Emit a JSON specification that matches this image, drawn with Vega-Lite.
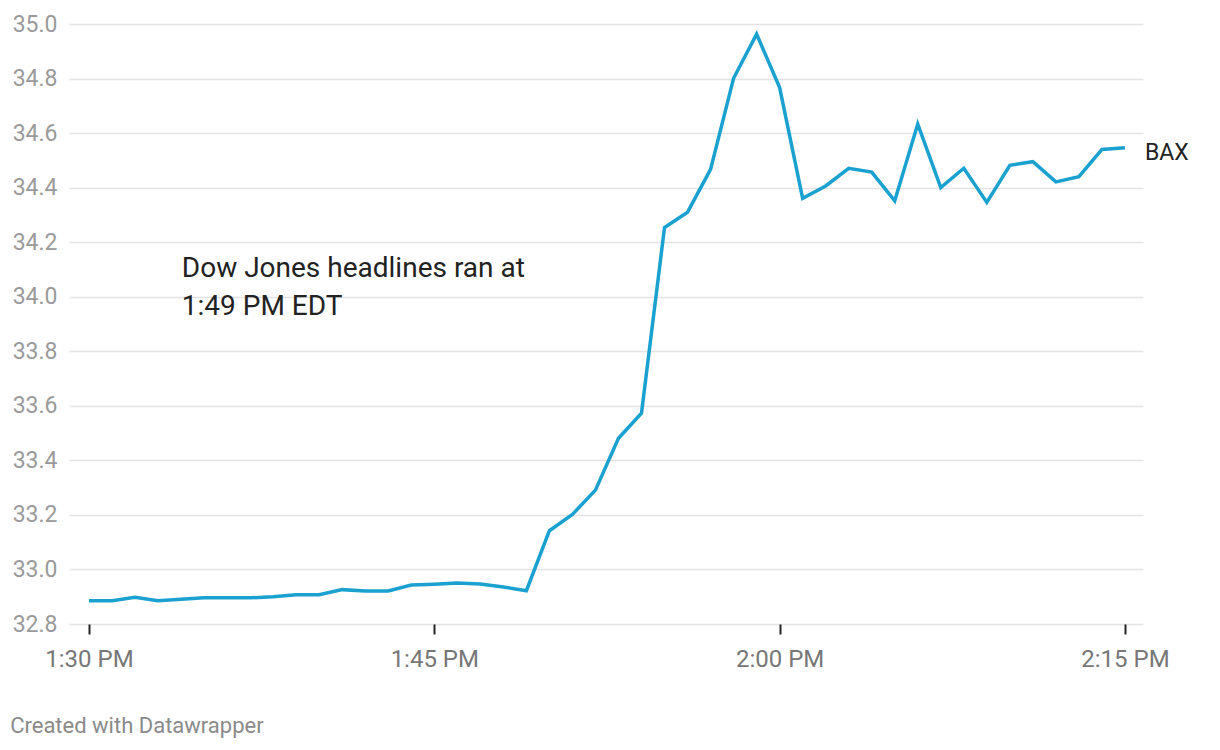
{
  "$schema": "https://vega.github.io/schema/vega-lite/v6.json",
  "width": 1074,
  "height": 600,
  "autosize": {"type": "none"},
  "padding": {"left": 69, "top": 24, "right": 77, "bottom": 126},
  "background": "white",
  "config": {
    "font": "Roboto",
    "view": {"stroke": null}
  },
  "title": {
    "text": "Created with Datawrapper",
    "orient": "bottom",
    "anchor": "start",
    "frame": "bounds",
    "offset": 45,
    "fontSize": 22,
    "fontWeight": "normal",
    "color": "#8a8a8a",
    "font": "Roboto",
    "dx": -2
  },
  "datasets": {
    "prices": [
      {"t": "2020-01-01T13:30:00", "v": 32.885},
      {"t": "2020-01-01T13:31:00", "v": 32.885},
      {"t": "2020-01-01T13:32:00", "v": 32.898},
      {"t": "2020-01-01T13:33:00", "v": 32.885},
      {"t": "2020-01-01T13:34:00", "v": 32.891},
      {"t": "2020-01-01T13:35:00", "v": 32.896},
      {"t": "2020-01-01T13:36:00", "v": 32.896},
      {"t": "2020-01-01T13:37:00", "v": 32.896},
      {"t": "2020-01-01T13:38:00", "v": 32.900},
      {"t": "2020-01-01T13:39:00", "v": 32.907},
      {"t": "2020-01-01T13:40:00", "v": 32.907},
      {"t": "2020-01-01T13:41:00", "v": 32.926},
      {"t": "2020-01-01T13:42:00", "v": 32.921},
      {"t": "2020-01-01T13:43:00", "v": 32.921},
      {"t": "2020-01-01T13:44:00", "v": 32.943},
      {"t": "2020-01-01T13:45:00", "v": 32.946},
      {"t": "2020-01-01T13:46:00", "v": 32.950},
      {"t": "2020-01-01T13:47:00", "v": 32.947},
      {"t": "2020-01-01T13:48:00", "v": 32.936},
      {"t": "2020-01-01T13:49:00", "v": 32.922},
      {"t": "2020-01-01T13:50:00", "v": 33.142},
      {"t": "2020-01-01T13:51:00", "v": 33.202},
      {"t": "2020-01-01T13:52:00", "v": 33.291},
      {"t": "2020-01-01T13:53:00", "v": 33.481},
      {"t": "2020-01-01T13:54:00", "v": 33.573},
      {"t": "2020-01-01T13:55:00", "v": 34.254},
      {"t": "2020-01-01T13:56:00", "v": 34.310},
      {"t": "2020-01-01T13:57:00", "v": 34.467},
      {"t": "2020-01-01T13:58:00", "v": 34.801},
      {"t": "2020-01-01T13:59:00", "v": 34.963},
      {"t": "2020-01-01T14:00:00", "v": 34.767},
      {"t": "2020-01-01T14:01:00", "v": 34.361},
      {"t": "2020-01-01T14:02:00", "v": 34.406},
      {"t": "2020-01-01T14:03:00", "v": 34.471},
      {"t": "2020-01-01T14:04:00", "v": 34.457},
      {"t": "2020-01-01T14:05:00", "v": 34.352},
      {"t": "2020-01-01T14:06:00", "v": 34.633},
      {"t": "2020-01-01T14:07:00", "v": 34.400},
      {"t": "2020-01-01T14:08:00", "v": 34.471},
      {"t": "2020-01-01T14:09:00", "v": 34.346},
      {"t": "2020-01-01T14:10:00", "v": 34.482},
      {"t": "2020-01-01T14:11:00", "v": 34.495},
      {"t": "2020-01-01T14:12:00", "v": 34.421},
      {"t": "2020-01-01T14:13:00", "v": 34.440},
      {"t": "2020-01-01T14:14:00", "v": 34.540},
      {"t": "2020-01-01T14:15:00", "v": 34.546}
    ],
    "label": [
      {"t": "2020-01-01T14:15:00", "v": 34.546, "name": "BAX"}
    ],
    "note": [
      {"t": "2020-01-01T13:34:02", "v": 34.072, "text": "Dow Jones headlines ran at\n1:49 PM EDT"}
    ]
  },
  "layer": [
    {
      "data": {"name": "prices"},
      "mark": {"type": "line", "color": "#1aa1cf", "strokeWidth": 3.5, "strokeJoin": "miter", "clip": false},
      "encoding": {
        "x": {
          "field": "t",
          "type": "temporal",
          "scale": {
            "domain": [
              {"year": 2020, "month": 1, "date": 1, "hours": 13, "minutes": 29, "seconds": 8},
              {"year": 2020, "month": 1, "date": 1, "hours": 14, "minutes": 15, "seconds": 47}
            ]
          },
          "axis": {
            "title": null,
            "values": [
              {"year": 2020, "month": 1, "date": 1, "hours": 13, "minutes": 30},
              {"year": 2020, "month": 1, "date": 1, "hours": 13, "minutes": 45},
              {"year": 2020, "month": 1, "date": 1, "hours": 14, "minutes": 0},
              {"year": 2020, "month": 1, "date": 1, "hours": 14, "minutes": 15}
            ],
            "format": "%-I:%M %p",
            "grid": false,
            "domain": false,
            "ticks": true,
            "tickSize": 10,
            "tickWidth": 2,
            "tickColor": "#222222",
            "labelFontSize": 24,
            "labelColor": "#777777",
            "labelPadding": 13,
            "labelFont": "Roboto"
          }
        },
        "y": {
          "field": "v",
          "type": "quantitative",
          "scale": {"domain": [32.8, 35.0], "nice": false, "zero": false},
          "axis": {
            "title": null,
            "values": [32.8, 33.0, 33.2, 33.4, 33.6, 33.8, 34.0, 34.2, 34.4, 34.6, 34.8, 35.0],
            "format": ".1f",
            "grid": true,
            "gridColor": "#e3e3e3",
            "gridWidth": 1.5,
            "domain": false,
            "ticks": false,
            "labelFontSize": 23,
            "labelColor": "#9a9a9a",
            "labelPadding": 12,
            "labelFont": "Roboto"
          }
        }
      }
    },
    {
      "data": {"name": "label"},
      "mark": {"type": "text", "align": "left", "baseline": "middle", "dx": 20, "dy": 5, "fontSize": 23, "color": "#222222", "font": "Roboto"},
      "encoding": {
        "x": {"field": "t", "type": "temporal"},
        "y": {"field": "v", "type": "quantitative"},
        "text": {"field": "name"}
      }
    },
    {
      "data": {"name": "note"},
      "mark": {"type": "text", "align": "left", "baseline": "alphabetic", "fontSize": 28, "lineHeight": 38, "lineBreak": "\n", "color": "#222222", "font": "Roboto"},
      "encoding": {
        "x": {"field": "t", "type": "temporal"},
        "y": {"field": "v", "type": "quantitative"},
        "text": {"field": "text"}
      }
    }
  ]
}
